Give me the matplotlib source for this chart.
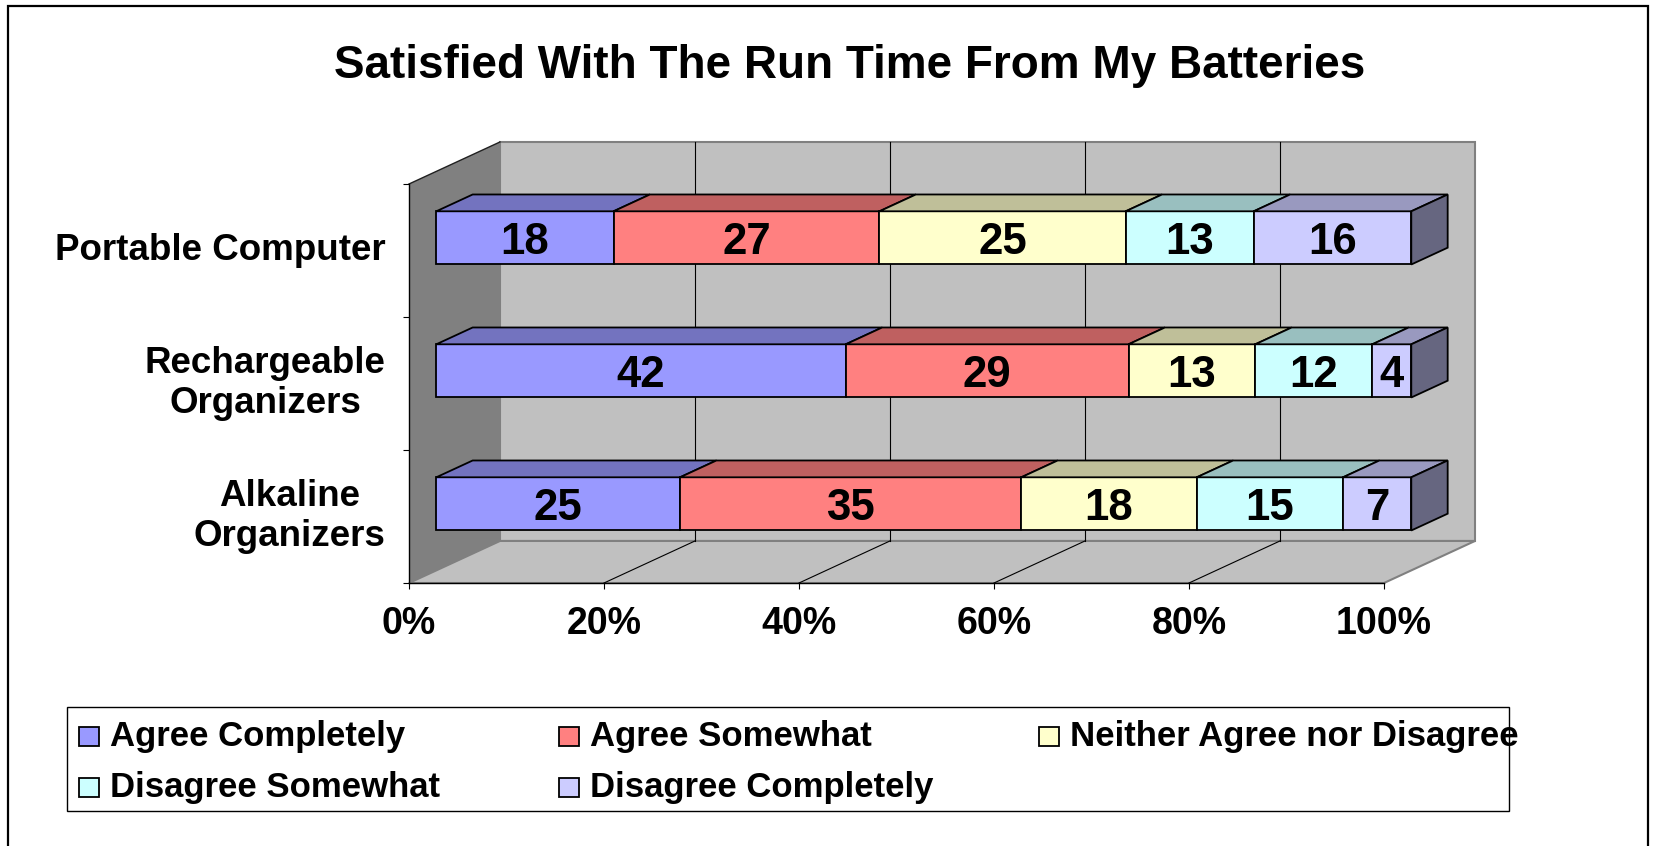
import matplotlib
matplotlib.use('Agg')
import matplotlib.pyplot as plt
from matplotlib.colors import to_rgb
from matplotlib.patches import Polygon, Rectangle

plt.rcParams['font.family'] = ['Liberation Sans', 'DejaVu Sans']
plt.rcParams['font.weight'] = 'bold'

# data (bottom row first)
categories = ['Alkaline\nOrganizers', 'Rechargeable\nOrganizers', 'Portable Computer']
series_names = ['Agree Completely', 'Agree Somewhat', 'Neither Agree nor Disagree',
                'Disagree Somewhat', 'Disagree Completely']
agree_completely = [25, 42, 18]
agree_somewhat = [35, 29, 27]
neither_agree = [18, 13, 25]
disagree_somewhat = [15, 12, 13]
disagree_completely = [7, 4, 16]
series_colors = ['#9999FF', '#FF8080', '#FFFFCC', '#CCFFFF', '#CCCCFF']
x_ticks = [0, 20, 40, 60, 80, 100]
title = 'Satisfied With The Run Time From My Batteries'

series = [agree_completely, agree_somewhat, neither_agree, disagree_somewhat, disagree_completely]

W, H = 1653, 846
fig = plt.figure(figsize=(W / 100, H / 100), dpi=100)


def fx(px):
    return px / W


def fy(py):
    return 1 - py / H


# front plane of the 3d box
ax = fig.add_axes([fx(409), fy(583), 975 / W, 399 / H])
ax.set_xlim(0, 100)
ax.set_ylim(-0.5, 2.5)
ax.patch.set_visible(False)

# oblique depth offset in data units
DX = 9.33
DY = 0.316
BAR_F0, BAR_F1 = 0.3, 0.7
HALF = 0.2


def deep(pts, f):
    return [(x + f * DX, y + f * DY) for x, y in pts]


def shade(c, k):
    return tuple(v * k for v in to_rgb(c))


# walls and floor
side = [(0, -0.5), (0, 2.5)] + deep([(0, 2.5), (0, -0.5)], 1)
ax.add_patch(Polygon(side, closed=True, facecolor='#808080', edgecolor='none',
                     clip_on=False, zorder=0.5))
ax.plot([0, DX], [2.5, 2.5 + DY], color='#202020', lw=1, clip_on=False, zorder=0.6)
back = deep([(0, -0.5), (100, -0.5), (100, 2.5), (0, 2.5)], 1)
ax.add_patch(Polygon(back, closed=True, facecolor='#C0C0C0', edgecolor='#808080',
                     lw=1.5, clip_on=False, zorder=0.5))
floor = [(0, -0.5), (100, -0.5)] + deep([(100, -0.5), (0, -0.5)], 1)
ax.add_patch(Polygon(floor, closed=True, facecolor='#C0C0C0', edgecolor='#808080',
                     lw=1.5, clip_on=False, zorder=0.5))

for t in x_ticks[1:-1]:
    ax.plot([t + DX, t + DX], [-0.5 + DY, 2.5 + DY], color='black', lw=0.8,
            clip_on=False, zorder=0.7)
    ax.plot([t, t + DX], [-0.5, -0.5 + DY], color='black', lw=0.8,
            clip_on=False, zorder=0.7)

# stacked 3d bars
for i in range(len(categories)):
    vals = [s[i] for s in series]
    total = sum(vals)
    left = 0
    for j, v in enumerate(vals):
        w = v / total * 100
        right = left + w
        c = series_colors[j]
        front = deep([(left, i - HALF), (right, i - HALF), (right, i + HALF), (left, i + HALF)], BAR_F0)
        top = deep([(left, i + HALF), (right, i + HALF)], BAR_F0) + \
            deep([(right, i + HALF), (left, i + HALF)], BAR_F1)
        ax.add_patch(Polygon(front, closed=True, facecolor=c, edgecolor='black',
                             lw=1.3, clip_on=False, zorder=3))
        ax.add_patch(Polygon(top, closed=True, facecolor=shade(c, 0.75), edgecolor='black',
                             lw=1.3, clip_on=False, zorder=3))
        if j == len(vals) - 1:
            rside = deep([(right, i - HALF), (right, i + HALF)], BAR_F0) + \
                deep([(right, i + HALF), (right, i - HALF)], BAR_F1)
            ax.add_patch(Polygon(rside, closed=True, facecolor=shade(c, 0.5),
                                 edgecolor='black', lw=1.3, clip_on=False, zorder=3))
        cx, cy = deep([((left + right) / 2, i)], BAR_F0)[0]
        ax.annotate(str(v), (cx, cy), xytext=(0, -3), textcoords='offset points',
                    ha='center', va='center', fontsize=31.5, fontweight='bold',
                    zorder=5, annotation_clip=False)
        left = right

# axes lines and ticks
for s in ['top', 'right']:
    ax.spines[s].set_visible(False)
for s in ['left', 'bottom']:
    ax.spines[s].set_color('black')
    ax.spines[s].set_linewidth(1)
ax.set_xticks(x_ticks)
ax.set_xticklabels([f'{t}%' for t in x_ticks], fontsize=27, fontweight='bold')
ax.tick_params(axis='x', length=4.5, width=0.8, direction='out', pad=12)
ax.set_yticks([-0.5, 0.5, 1.5, 2.5])
ax.set_yticklabels([])
ax.tick_params(axis='y', length=4.5, width=0.8, direction='out')

for i, cat in enumerate(categories):
    ax.annotate(cat, (0, i), xytext=(-17, 0), textcoords='offset points',
                ha='right', va='center', multialignment='center',
                fontsize=26.5, fontweight='bold', annotation_clip=False)

fig.text(fx(850), fy(66), title, ha='center', va='center', fontsize=33, fontweight='bold')

# legend box
fig.add_artist(Rectangle((fx(67), fy(811)), (1509 - 67) / W, (811 - 707) / H,
                         transform=fig.transFigure, facecolor='white', edgecolor='black',
                         lw=1, zorder=1))
for k, (name, c) in enumerate(zip(series_names, series_colors)):
    col, row = k % 3, k // 3
    x0 = 79 + col * 480
    yc = 736 + row * 51
    fig.add_artist(Rectangle((fx(x0), fy(yc + 9.5)), 20 / W, 19 / H,
                             transform=fig.transFigure, facecolor=c, edgecolor='black',
                             lw=1.3, zorder=2))
    fig.text(fx(x0 + 31), fy(yc), name, ha='left', va='center', fontsize=25,
             fontweight='bold', zorder=3)

# outer frame
fig.add_artist(Rectangle((fx(8), fy(860)), (1648 - 8) / W, (860 - 6) / H,
                         transform=fig.transFigure, facecolor='none', edgecolor='black',
                         lw=1.6, zorder=0))

fig.savefig('out.png', dpi=100, facecolor='white')
